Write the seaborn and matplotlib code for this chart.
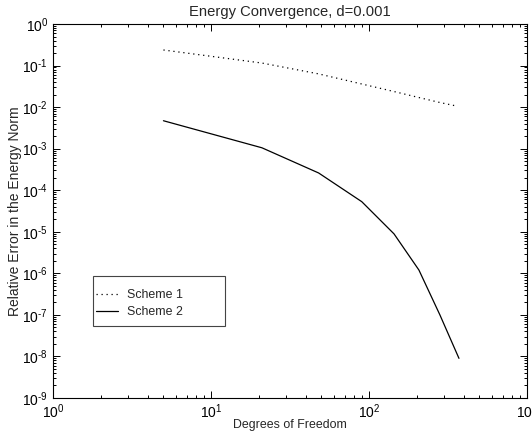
import numpy as np
import pandas as pd
import seaborn as sns
import matplotlib
matplotlib.use("Agg")
import matplotlib.pyplot as plt
from matplotlib.patches import Rectangle
from matplotlib.ticker import LogLocator, NullFormatter, FuncFormatter

# Degrees of freedom and relative energy-norm error for each scheme
dof_scheme1 = [5, 21, 48, 90, 144, 207, 281, 355]
err_scheme1 = [0.237, 0.115, 0.063, 0.036, 0.0237, 0.017, 0.0129, 0.0107]

dof_scheme2 = [5, 21, 48, 90, 144, 207, 281, 371]
err_scheme2 = [4.7e-3, 1.05e-3, 2.6e-4, 5.3e-5, 8.9e-6, 1.2e-6, 1.0e-7, 9.0e-9]

series_names = ["Scheme 1", "Scheme 2"]

df = pd.concat([
    pd.DataFrame({"dof": dof_scheme1, "err": err_scheme1, "scheme": series_names[0]}),
    pd.DataFrame({"dof": dof_scheme2, "err": err_scheme2, "scheme": series_names[1]}),
])

sns.set_style("ticks")
plt.rcParams["font.family"] = ["Liberation Sans", "DejaVu Sans"]
plt.rcParams["mathtext.fontset"] = "custom"
plt.rcParams["mathtext.rm"] = "Liberation Sans"
plt.rcParams["mathtext.it"] = "Liberation Sans:italic"
plt.rcParams["mathtext.bf"] = "Liberation Sans:bold"

W, H = 532, 436
fig = plt.figure(figsize=(W / 100, H / 100), dpi=100)
ax_l, ax_r, ax_t, ax_b = 53, 527, 24, 398
ax = fig.add_axes([ax_l / W, 1 - ax_b / H, (ax_r - ax_l) / W, (ax_b - ax_t) / H])
aw, ah = ax_r - ax_l, ax_b - ax_t

sns.lineplot(data=df, x="dof", y="err", hue="scheme", style="scheme",
             palette=["black", "black"],
             dashes={"Scheme 1": (1, 3), "Scheme 2": ""},
             linewidth=0.9, ax=ax, legend=True, sort=False, estimator=None)

ax.set_xscale("log")
ax.set_yscale("log")
ax.set_xlim(1, 1000)
ax.set_ylim(1e-9, 1)


def pow10_label(v, pos):
    # power-of-ten label with a short hyphen in the exponent
    e = int(round(np.log10(v)))
    s = str(e).replace("-", "\u2010")
    return rf"$\mathregular{{10^{{{s}}}}}$"


ax.xaxis.set_major_locator(LogLocator(base=10, numticks=10))
ax.xaxis.set_minor_locator(LogLocator(base=10, subs=np.arange(2, 10), numticks=20))
ax.yaxis.set_major_locator(LogLocator(base=10, numticks=12))
ax.yaxis.set_minor_locator(LogLocator(base=10, subs=np.arange(2, 10), numticks=20))
ax.xaxis.set_major_formatter(FuncFormatter(pow10_label))
ax.yaxis.set_major_formatter(FuncFormatter(pow10_label))
ax.xaxis.set_minor_formatter(NullFormatter())
ax.yaxis.set_minor_formatter(NullFormatter())

ax.tick_params(which="both", direction="in", top=True, right=True,
               labelsize=10, width=0.7, colors="black")
ax.tick_params(which="major", length=5, pad=3.5)
ax.tick_params(which="minor", length=2.5)
for sp in ax.spines.values():
    sp.set_linewidth(0.8)
    sp.set_color("black")
    sp.set_visible(True)

ax.set_title("Energy Convergence, d=0.001", fontsize=10.6, pad=6)
ax.set_xlabel("Degrees of Freedom", fontsize=8.9, va="center")
ax.xaxis.set_label_coords(0.5, (ax_b - 425) / ah)
ax.set_ylabel("Relative Error in the Energy Norm", fontsize=10, va="center")
ax.yaxis.set_label_coords((15 - ax_l) / aw, 0.5)

# legend entries without a frame, boxed by a separate rectangle
handles, labels = ax.get_legend_handles_labels()
leg = ax.legend(handles, labels, loc="upper left",
                bbox_to_anchor=((96 - ax_l) / aw, (ax_b - 289) / ah),
                frameon=False, fontsize=8.9,
                handlelength=1.8, handletextpad=0.7, borderpad=0,
                labelspacing=0.4, borderaxespad=0)
box = Rectangle(((93 - ax_l) / aw, (ax_b - 326) / ah), 132 / aw, 50 / ah,
                transform=ax.transAxes, fill=True, facecolor="white",
                edgecolor="#444444", linewidth=0.8, zorder=4)
ax.add_patch(box)
leg.set_zorder(5)

fig.savefig("out.png", dpi=100, facecolor="white")
